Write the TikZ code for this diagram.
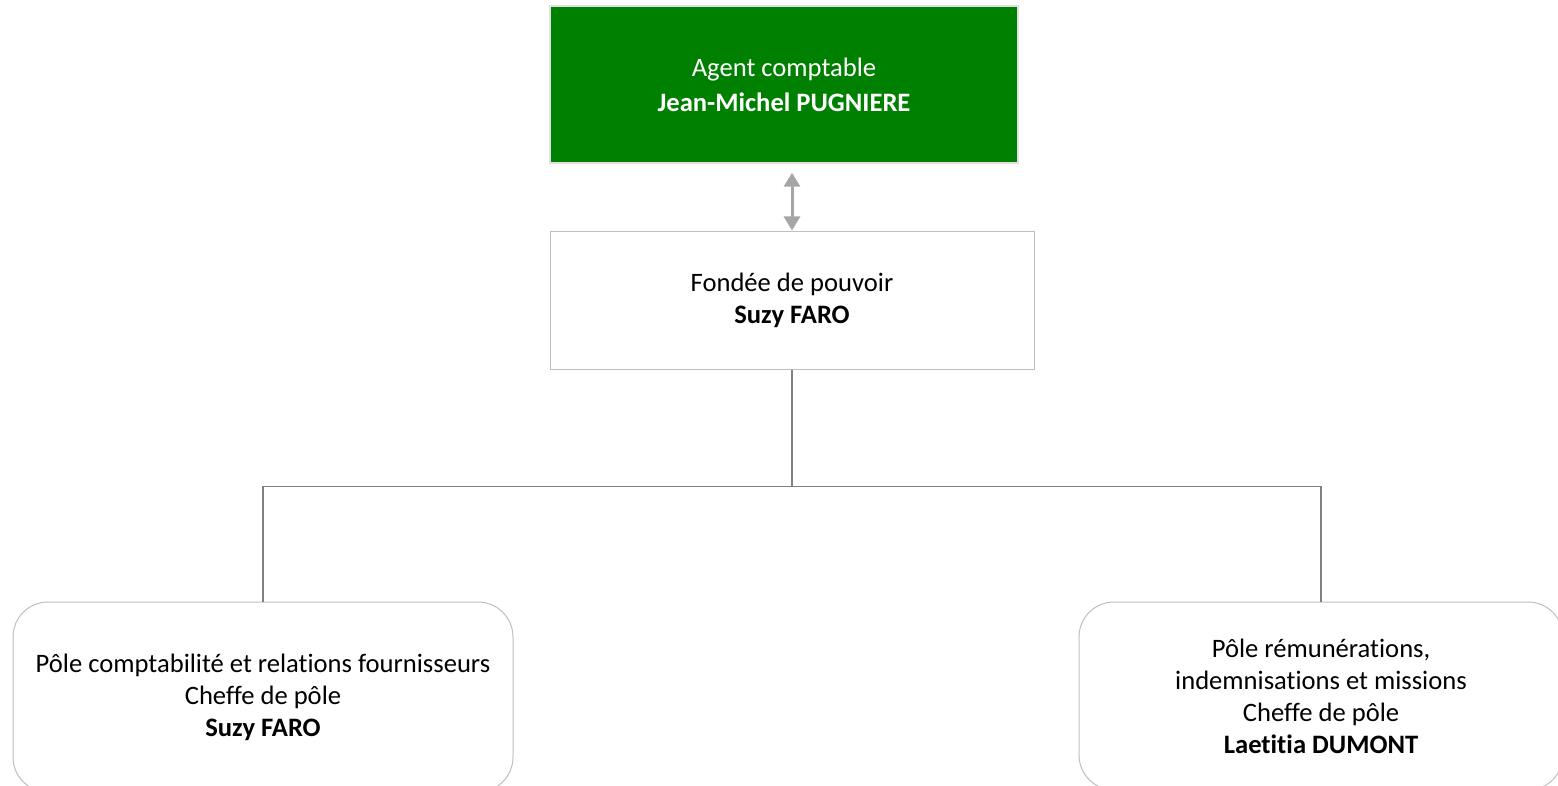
\documentclass[tikz,border=0pt]{standalone}
\usepackage{fontspec}
\setmainfont{Carlito}[Ligatures={NoCommon}]
\usetikzlibrary{arrows.meta}

\definecolor{chefgreen}{HTML}{008000}
\definecolor{framegray}{HTML}{BFBFBF}
\definecolor{linkgray}{HTML}{808080}
\definecolor{arrowgray}{HTML}{A6A6A6}

\begin{document}
\begin{tikzpicture}[
            x=1pt, y=-1pt,
            every node/.style={font=\fontsize{26.6}{32}\selectfont, align=center, inner sep=0pt},
            topbox/.style={draw=black!12, line width=1.5pt, fill=chefgreen, text=white,
                font=\fontsize{26.6}{35}\selectfont,
                minimum width=468pt, minimum height=157pt},
            deputybox/.style={draw=framegray, line width=1pt, fill=white,
                minimum width=484pt, minimum height=137pt},
            polebox/.style={draw=framegray, line width=1pt, fill=white, rounded corners=35pt,
                minimum width=500pt, minimum height=190pt},
            link/.style={draw=linkgray, line width=1.2pt},
            both/.style={draw=arrowgray, line width=3pt, {Triangle[width=16pt,length=14pt]}-{Triangle[width=16pt,length=14pt]}}
        ]
            \clip (0,0) rectangle (1558,786);
            \useasboundingbox (0,0) rectangle (1558,786);

            \node[topbox] (agent) at (784,84.5) {Agent comptable\\\textbf{Jean-Michel PUGNIERE}};
            \node[deputybox] (fondee) at (792,300.5) {Fondée de pouvoir\\\textbf{Suzy FARO}};
            \node[polebox] (compta) at (263,697) {Pôle comptabilité et relations fournisseurs\\Cheffe de pôle\\\textbf{Suzy FARO}};
            \node[polebox, minimum width=484pt, minimum height=188pt] (remu) at (1321,696) {Pôle rémunérations,\\indemnisations et missions\\Cheffe de pôle\\\textbf{Laetitia DUMONT}};

            % liens
            \draw[both, shorten <=9pt, shorten >=1pt] (fondee.north |- agent.south) -- (fondee.north);
            \draw[link] (fondee.south) -- +(0,117) -| (compta.north);
            \draw[link] (fondee.south) -- +(0,117) -| (remu.north);

        \end{tikzpicture}
\end{document}
